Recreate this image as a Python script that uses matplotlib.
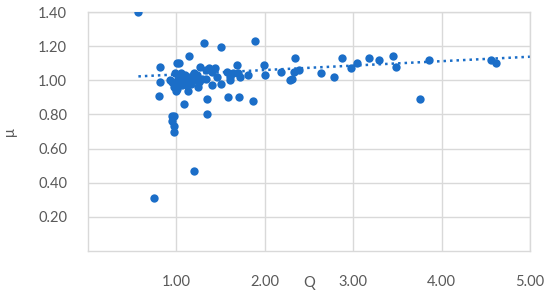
import matplotlib
matplotlib.use("Agg")
import matplotlib.pyplot as plt
import numpy as np

q = [0.57, 0.75, 1.20, 0.95, 0.97, 0.95, 0.97, 0.97, 1.09, 1.35, 1.35, 1.58, 1.71, 1.87,
     1.31, 1.51, 1.89, 1.14, 1.01, 1.03, 0.82, 1.27, 1.37, 1.44, 1.40, 1.69, 1.99, 2.00,
     2.18, 2.28, 1.57, 1.61, 1.70, 1.81, 1.61, 1.50, 1.40, 1.33, 1.24, 1.13, 0.99, 0.81,
     0.80, 0.98, 1.04, 1.10, 1.15, 1.23, 0.95, 1.00, 1.08, 1.13, 1.19, 0.97, 1.06, 1.12,
     1.17, 1.25, 1.29, 0.93, 1.05, 1.10, 1.20, 1.02, 1.07, 1.16, 1.22, 1.34, 1.46, 1.72,
     1.64, 1.01,
     2.34, 2.31, 2.33, 2.39, 2.64, 2.78, 2.87, 2.97, 3.04, 3.18, 3.29, 3.45, 3.48, 3.76,
     3.86, 4.56, 4.61]
mu = [1.40, 0.31, 0.47, 0.79, 0.79, 0.76, 0.73, 0.70, 0.86, 0.80, 0.89, 0.90, 0.90, 0.88,
      1.22, 1.195, 1.23, 1.14, 1.10, 1.10, 1.08, 1.08, 1.07, 1.07, 1.05, 1.09, 1.09, 1.03,
      1.05, 1.00, 1.05, 1.02, 1.04, 1.03, 1.00, 0.98, 0.97, 1.01, 0.96, 0.94, 0.94, 0.99,
      0.91, 1.04, 1.03, 1.01, 1.02, 1.03, 0.99, 0.98, 0.99, 1.00, 1.00, 0.96, 0.97, 0.97,
      0.98, 0.99, 1.01, 1.00, 1.04, 1.03, 1.04, 1.01, 1.00, 0.99, 1.00, 1.06, 1.02, 1.02,
      1.04, 0.95,
      1.13, 1.006, 1.05, 1.06, 1.04, 1.02, 1.13, 1.07, 1.10, 1.13, 1.12, 1.14, 1.08, 0.89,
      1.12, 1.12, 1.10]

# trendline: mu = intercept + slope * Q
trend_slope = 0.026
trend_intercept = 1.008
trend_range = [0.57, 5.0]

x_ticks = [1, 2, 3, 4, 5]
y_ticks = [0.2, 0.4, 0.6, 0.8, 1.0, 1.2, 1.4]
x_label = "Q"
y_label = "μ"

blue = "#1B6EC8"
gray_txt = "#595959"
grid_c = "#D9D9D9"

plt.rcParams['font.family'] = ['Lato', 'DejaVu Sans']

fig = plt.figure(figsize=(5.5, 2.97), dpi=100)
ax = fig.add_axes([88/550, 46/297, 442/550, 239/297])

ax.scatter(q, mu, s=36, color=blue, zorder=3, linewidths=0)

xs = np.array(trend_range)
ax.plot(xs, trend_intercept + trend_slope * xs, color=blue,
        linestyle=(0, (1, 1.6)), lw=1.8, zorder=2)

ax.set_xlim(0, 5)
ax.set_ylim(0, 1.4)
ax.set_xticks(x_ticks)
ax.set_xticklabels([f"{v:.2f}" for v in x_ticks])
ax.set_yticks(y_ticks)
ax.set_yticklabels([f"{v:.2f}" for v in y_ticks])
ax.grid(True, color=grid_c, lw=1)
ax.set_axisbelow(True)
for s in ax.spines.values():
    s.set_color(grid_c)
    s.set_linewidth(1)
ax.tick_params(length=0, labelsize=10.5, labelcolor=gray_txt, pad=15)
ax.tick_params(axis='x', pad=17)
ax.set_xlabel(x_label, fontsize=10.5, color=gray_txt, labelpad=-9)
ax.set_ylabel(y_label, fontsize=10.5, color=gray_txt, labelpad=15)

fig.savefig("out.png", dpi=100)
